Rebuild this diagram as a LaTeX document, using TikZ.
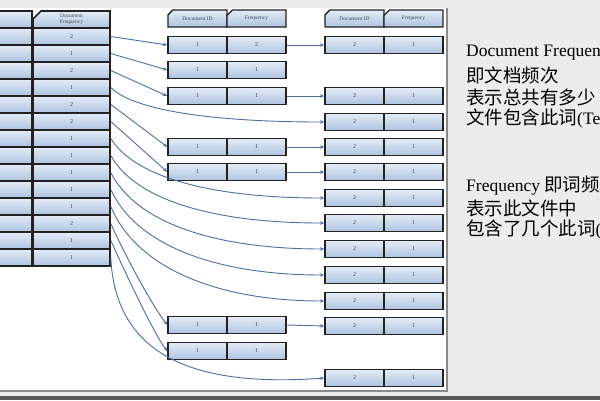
\documentclass[tikz,border=0pt]{standalone}
\usepackage{fontspec}
\setmainfont{Liberation Serif}
\newfontfamily\cjk{Noto Sans CJK SC}
\usetikzlibrary{shapes.misc,arrows.meta}
\definecolor{bggray}{HTML}{ECECEC}
\definecolor{bordergray}{HTML}{8A8A8A}
\definecolor{darkband}{HTML}{5A5A5A}
\definecolor{celltop}{HTML}{E4ECF7}
\definecolor{cellbot}{HTML}{AEC3DF}
\definecolor{celledge}{HTML}{222222}
\definecolor{celltext}{HTML}{454545}
\definecolor{arrowblue}{HTML}{4D6EA3}
\tikzset{
  cell/.style={rectangle, draw=celledge, line width=1.3pt, top color=celltop, bottom color=cellbot,
    minimum width=59pt, minimum height=17pt, inner sep=0pt, text=celltext,
    font=\fontsize{6}{6}\selectfont},
  hdr/.style={cell, chamfered rectangle, chamfered rectangle corners=north west,
    chamfered rectangle xsep=5pt, font=\fontsize{5.5}{5.5}\selectfont},
  lcell/.style={cell, line width=1.6pt, minimum width=77pt},
  tcell/.style={cell, line width=1.6pt, minimum width=62pt},
  link/.style={draw=arrowblue, line width=0.9pt, -{Stealth[length=4.5pt,width=3.5pt]}},
  note/.style={anchor=west, inner sep=0pt, text=black},
  latin/.style={font=\fontsize{17.5}{17.5}\selectfont},
  han/.style={font=\cjk\fontsize{18.5}{18.5}\selectfont},
}
\begin{document}
\begin{tikzpicture}[x=1pt,y=-1pt]
\useasboundingbox (0,0) rectangle (600,400);
\clip (0,0) rectangle (600,400);
\fill[bggray] (0,0) rectangle (600,400);
\fill[white] (-5,8) rectangle (447,390);
\draw[bordergray, line width=1.6pt] (447,8) -- (447,391) -- (-5,391);
\fill[darkband] (0,396) rectangle (600,400);

% left table
\node[tcell, minimum height=17pt] (TH) at (1,19.5) {};
\node[hdr, minimum width=77pt, minimum height=17pt, line width=1.6pt, align=center,
  font=\fontsize{5.5}{6}\selectfont] (LH) at (71.5,19.5) {Document\\Frequency};
\foreach \v [count=\i] in {2,1,2,1,2,2,1,1,1,1,1,2,1,1} {
  \node[tcell] (T\i) at (1,{19.5+17*\i}) {};
  \node[lcell] (L\i) at (71.5,{19.5+17*\i}) {\v};
}

% middle postings (document 1)
\node[hdr] (MHA) at (197.5,18.5) {Document ID};
\node[hdr] (MHB) at (256.5,18.5) {Frequency};
\foreach \y/\f [count=\i] in {45/2,70/1,96/1,147/1,172/1,325/1,351/1} {
  \node[cell] (MA\i) at (197.5,\y) {1};
  \node[cell] (MB\i) at (256.5,\y) {\f};
}

% right postings (document 2)
\node[hdr] (RHA) at (354.5,18.5) {Document ID};
\node[hdr] (RHB) at (413.5,18.5) {Frequency};
\foreach \y [count=\i] in {45,96,122,147,172,198,223,249,275,301,326,378} {
  \node[cell] (RA\i) at (354.5,\y) {2};
  \node[cell] (RB\i) at (413.5,\y) {1};
}

% links from terms
\draw[link] (L1.east) -- (MA1.west);
\draw[link] (L2.east) -- (MA2.west);
\draw[link] (L3.east) -- (MA3.west);
\draw[link] (L4.east) .. controls +(25,25) and +(-100,0) .. (RA3.west);
\draw[link] (L5.east) -- (MA4.west);
\draw[link] (L6.east) -- (MA5.west);
\draw[link] (L7.east) .. controls +(25,40) and +(-110,0) .. (RA6.west);
\draw[link] (L8.east) .. controls +(25,45) and +(-110,0) .. (RA7.west);
\draw[link] (L9.east) .. controls +(25,50) and +(-110,0) .. (RA8.west);
\draw[link] (L10.east) .. controls +(25,55) and +(-110,0) .. (RA9.west);
\draw[link] (L11.east) .. controls +(25,60) and +(-110,0) .. (RA10.west);
\draw[link] (L12.east) .. controls +(18,40) and +(-12,-15) .. (MA6.west);
\draw[link] (L13.east) .. controls +(18,40) and +(-12,-15) .. (MA7.west);
\draw[link] (L14.east) .. controls +(5,110) and +(-110,8) .. (RA12.west);

% links from document 1 to document 2
\draw[link] (MB1.east) -- (RA1.west);
\draw[link] (MB3.east) -- (RA2.west);
\draw[link] (MB4.east) -- (RA4.west);
\draw[link] (MB5.east) -- (RA5.west);
\draw[link] (MB6.east) -- (RA11.west);

% notes (cut at the right edge, as in the reference)
\node[note, latin] (n1) at (466,53) {Document Frequency};
\node[note, han] (n2) at (466,75) {即文档频次};
\node[note, han] (n3) at (466,97) {表示总共有多少};
\node[note, han] (n4) at (466,119) {文件包含此词{\rmfamily\fontsize{17.5}{17.5}\selectfont(Term)}};
\node[note, latin] (n5) at (466,186) {Frequency {\cjk\fontsize{18.5}{18.5}\selectfont 即词频}};
\node[note, han] (n6) at (466,208) {表示此文件中};
\node[note, han] (n7) at (466,230) {包含了几个此词{\rmfamily\fontsize{17.5}{17.5}\selectfont(Term)}};
\end{tikzpicture}
\end{document}
